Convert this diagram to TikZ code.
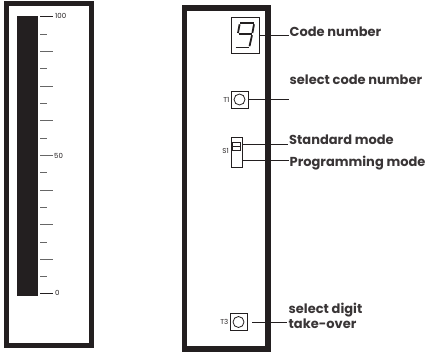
\documentclass[tikz,border=0pt]{standalone}
\usepackage{fontspec}
\setmainfont{Poppins}
\definecolor{ink}{HTML}{231F20}
\begin{document}
\begin{tikzpicture}[x=1pt,y=-1pt,
  frame/.style={draw=ink, line width=5.5pt, inner sep=0pt, outer sep=0pt},
  bar/.style={fill=ink, inner sep=0pt, outer sep=0pt},
  lbl/.style={font=\fontsize{13}{15}\selectfont\bfseries, text=ink!90, inner sep=0pt, anchor=base west},
  small/.style={font=\fontsize{7}{8}\selectfont, text=ink, inner sep=0pt},
  lead/.style={draw=ink, line width=0.8pt},
  tickmark/.style={draw=black!60, line width=1pt},
  part/.style={draw=ink, line width=0.8pt, inner sep=0pt, outer sep=0pt},
  seg/.style={draw=ink, line width=1.8pt, line cap=butt}]
\useasboundingbox (0,0) rectangle (428,352);
% ---------- left panel ----------
\node[frame, minimum width=85pt, minimum height=342pt] (lframe) at (49,174.5) {};
\node[bar, minimum width=21pt, minimum height=280pt] (lbar) at (27.5,156) {};
\foreach \i in {0,...,16}{
  \pgfmathsetmacro{\yy}{294-\i*17.3125}
  \ifodd\i
    \draw[tickmark] (40,\yy) -- (47,\yy);
  \else
    \draw[tickmark] (40,\yy) -- (53,\yy);
  \fi
}
\draw[draw=ink, line width=1pt] (40,17) -- (53,17);
\draw[draw=ink, line width=1pt] (40,294) -- (53,294);
\node[small, anchor=west] (l100) at (55,16) {100};
\node[small, anchor=west] (l50) at (54,155.5) {50};
\node[small, anchor=west] (l0) at (55,293) {0};
% ---------- right panel ----------
\node[frame, minimum width=83.5pt, minimum height=341pt] (rframe) at (226.25,178.5) {};
% display
\node[part, minimum width=28pt, minimum height=36pt] (disp) at (245,35) {};
\draw[seg] (240,23) -- (253.5,23);
\draw[seg] (239.6,24.3) -- (238,33);
\draw[seg] (254,24.3) -- (252.4,33);
\draw[seg] (238.5,34) -- (251.5,34);
\draw[seg] (252,35.2) -- (249.5,46.3);
\draw[seg] (235.5,47.5) -- (248.5,47.5);
\coordinate (codeend) at (289,35);
\draw[lead] (disp.east) -- (codeend);
\node[lbl] (code) at (289.5,37) {Code number};
% T1
\node[part, minimum width=17pt, minimum height=17pt] (t1) at (239.5,99.5) {};
\node[part, circle, minimum size=11pt] (t1c) at (t1.center) {};
\node[small, anchor=east] (t1l) at (229.5,99.5) {T1};
\coordinate (t1end) at (289,99.5);
\draw[lead] (t1.east) -- (t1end);
\node[lbl] (selcode) at (289.5,85) {select code number};
% S1
\node[part, minimum width=11pt, minimum height=30pt] (s1) at (236.5,152) {};
\node[part, minimum width=7.5pt, minimum height=8pt] (s1k) at (236.3,146) {};
\draw[part] (s1k.west) -- (s1k.east);
\node[small, anchor=east] (s1l) at (229,151) {S1};
\coordinate (s1a) at (s1.east |- 0,144);
\coordinate (s1b) at (s1.east |- 0,160);
\coordinate (stdend) at (288,144);
\coordinate (prgend) at (289,160);
\draw[lead] (s1a) -- (stdend);
\draw[lead] (s1b) -- (prgend);
\node[lbl] (std) at (289,145) {Standard mode};
\node[lbl] (prg) at (289.5,167) {Programming mode};
% T3
\node[part, minimum width=17pt, minimum height=17pt] (t3) at (238.5,322) {};
\node[part, circle, minimum size=11pt] (t3c) at (t3.center) {};
\node[small, anchor=east] (t3l) at (228.5,322) {T3};
\coordinate (t3end) at (287,322);
\draw[lead, shorten <=5pt] (t3.east) -- (t3end);
\node[lbl] (seldig) at (288.5,313) {select digit};
\node[lbl] (take) at (288.5,329) {take-over};
\end{tikzpicture}
\end{document}
